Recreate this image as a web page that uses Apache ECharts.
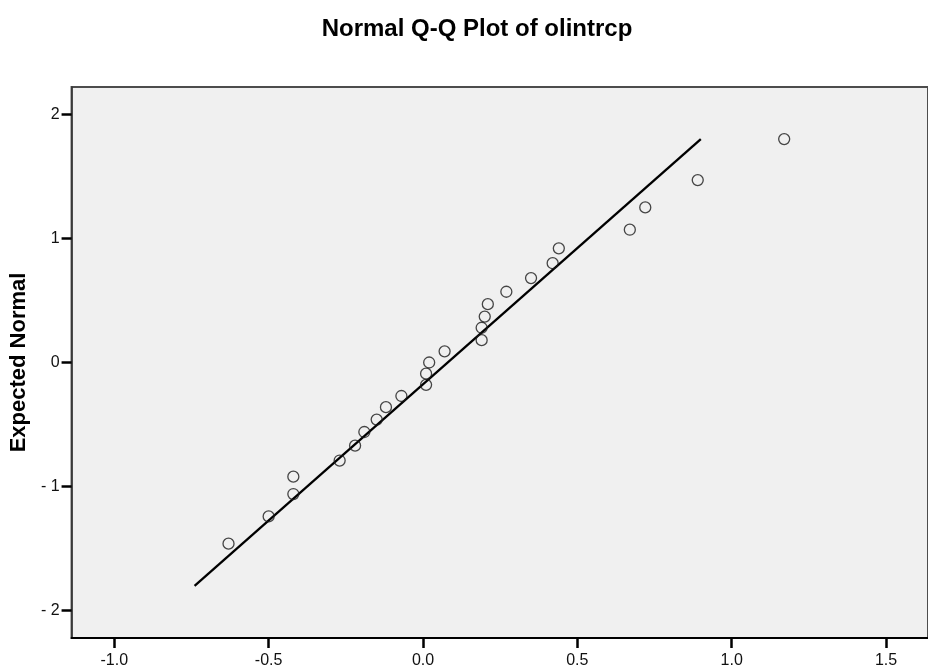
<!DOCTYPE html>
<html>
<head>
<meta charset="utf-8">
<script src="https://cdn.jsdelivr.net/npm/echarts@6/dist/echarts.min.js"></script>
<style>
html,body{margin:0;padding:0;background:#fff;}
#chart{width:928px;height:670px;}
</style>
</head>
<body>
<div id="chart"></div>
<script>
var titleText = 'Normal Q-Q Plot of olintrcp';
var yAxisName = 'Expected Normal';
var observedValues = [-0.63,-0.50,-0.42,-0.42,-0.27,-0.22,-0.19,-0.15,-0.12,-0.07,0.01,0.01,0.02,0.07,0.19,0.19,0.20,0.21,0.27,0.35,0.42,0.44,0.67,0.72,0.89,1.17];
var expectedNormal = [-1.46,-1.24,-1.06,-0.92,-0.79,-0.67,-0.56,-0.46,-0.36,-0.27,-0.18,-0.09,0.00,0.09,0.18,0.28,0.37,0.47,0.57,0.68,0.80,0.92,1.07,1.25,1.47,1.80];
var refLineX = [-0.74, 0.90];
var refLineY = [-1.80, 1.80];
var xTickValues = [-1.0,-0.5,0.0,0.5,1.0,1.5];
var xTickLabels = ['-1.0','-0.5','0.0','0.5','1.0','1.5'];
var yTickValues = [-2,-1,0,1,2];
var yTickLabels = ['- 2','- 1','0','1','2'];

var points = observedValues.map(function(v,i){ return [v, expectedNormal[i]]; });
var linePts = refLineX.map(function(v,i){ return [v, refLineY[i]]; });

var font = "'Liberation Sans', Arial, sans-serif";
var chart = echarts.init(document.getElementById('chart'), null, {renderer:'canvas'});
chart.setOption({
  animation: false,
  backgroundColor: '#ffffff',
  title: {
    text: titleText,
    left: 472,
    top: 12,
    textAlign: 'center',
    textStyle: {fontFamily: font, fontWeight: 'bold', fontSize: 24, color: '#000'}
  },
  grid: {
    left: 66, top: 87, width: 872, height: 551,
    show: true, backgroundColor: '#f0f0f0', borderColor: '#4d4d4d', borderWidth: 2
  },
  xAxis: {
    type: 'value', min: -1.1384, max: 1.6359,
    axisLine: {show: true, onZero: false, lineStyle: {color: '#000', width: 2}},
    axisTick: {show: true, customValues: xTickValues, length: 10, lineStyle: {color: '#000', width: 2.5}},
    axisLabel: {
      customValues: xTickValues, margin: 15,
      fontFamily: font, fontSize: 16, color: '#111',
      formatter: function(v){ var i = xTickValues.indexOf(v); return i >= 0 ? xTickLabels[i] : ''; }
    },
    splitLine: {show: false}
  },
  yAxis: {
    type: 'value', min: -2.22, max: 2.22,
    name: yAxisName, nameLocation: 'middle', nameGap: 30,
    nameTextStyle: {fontFamily: font, fontWeight: 'bold', fontSize: 22, color: '#000'},
    axisLine: {show: true, onZero: false, lineStyle: {color: '#333', width: 1.5}},
    axisTick: {show: true, customValues: yTickValues, length: 10, lineStyle: {color: '#000', width: 2.5}},
    axisLabel: {
      customValues: yTickValues, margin: 12,
      fontFamily: font, fontSize: 16, color: '#111',
      formatter: function(v){ var i = yTickValues.indexOf(v); return i >= 0 ? yTickLabels[i] : ''; }
    },
    splitLine: {show: false}
  },
  series: [
    {
      type: 'line', data: linePts, symbol: 'none', silent: true,
      lineStyle: {color: '#000', width: 2.3}, z: 2
    },
    {
      type: 'scatter', data: points, symbol: 'circle', symbolSize: 11,
      itemStyle: {color: 'rgba(0,0,0,0)', borderColor: '#1a1a1a', borderWidth: 1.3}, z: 3
    }
  ]
});
</script>
</body>
</html>
